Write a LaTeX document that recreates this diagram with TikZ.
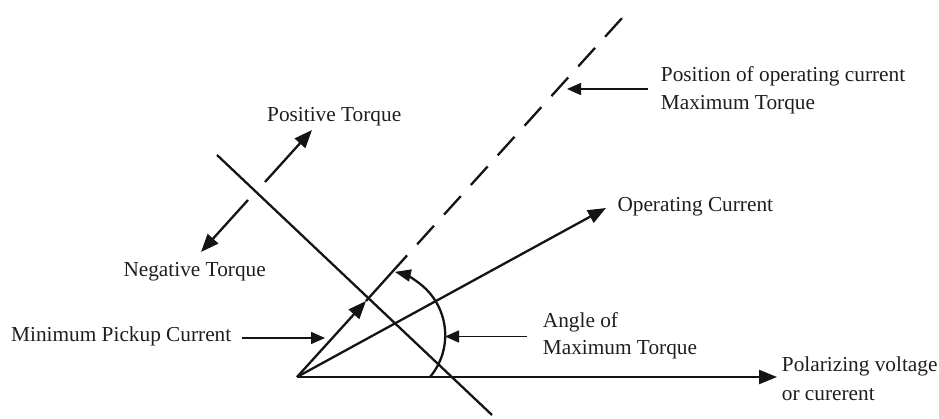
\documentclass[tikz,border=0pt]{standalone}
\usepackage{fontspec}
\setmainfont{Liberation Serif}
\usetikzlibrary{arrows.meta}
\definecolor{ink}{HTML}{141414}
\definecolor{txt}{HTML}{1E1E1E}
\begin{document}
\begin{tikzpicture}[x=1pt,y=-1pt,
  lbl/.style={inner sep=0pt,anchor=base west,text=txt,font=\fontsize{21.3}{26}\selectfont},
  mainline/.style={draw=ink,line width=2.3pt},
  vec/.style={mainline,-{Triangle[length=18pt,width=14pt]}},
  pointer/.style={draw=ink,line width=1.6pt,-{Triangle[length=14pt,width=12pt]}},
  dashline/.style={mainline,dash pattern=on 25pt off 15pt,dash phase=25pt}]
\useasboundingbox (0,0) rectangle (939,419);
% key points
\coordinate (O) at (297,377);
\coordinate (M) at (366,301);
\coordinate (P1) at (407.1,255.4);
\coordinate (E) at (623,17);
\coordinate (OC) at (606,208);
\coordinate (PV) at (777,377);
\coordinate (L1) at (217,155);
\coordinate (L2) at (492,415);
\coordinate (PT1) at (265,182);
\coordinate (PT2) at (312,130);
\coordinate (NT1) at (248,200);
\coordinate (NT2) at (201,252);
\coordinate (A0) at (430,377);
% pointer coordinates
\coordinate (mp1) at (242,338);
\coordinate (mp2) at (325,338);
\coordinate (am1) at (527,336.5);
\coordinate (am2) at (445,336.5);
\coordinate (po1) at (648,89);
\coordinate (po2) at (567,89);
% labels
\node[lbl] (pos) at (267,121.7) {Positive Torque};
\node[lbl] (neg) at (123.3,276.7) {Negative Torque};
\node[lbl] (mpc) at (11,341.7) {Minimum Pickup Current};
\node[lbl] (ang1) at (542.7,327.3) {Angle of};
\node[lbl] (ang2) at (542.7,355) {Maximum Torque};
\node[lbl] (opc) at (617.3,211.7) {Operating Current};
\node[lbl] (posi1) at (660.7,81.7) {Position of operating current};
\node[lbl] (posi2) at (660.7,110) {Maximum Torque};
\node[lbl] (pol1) at (781.7,371.7) {Polarizing voltage};
\node[lbl] (pol2) at (781.7,400) {or curerent};
% lines
\draw[vec] (O) -- (PV);
\draw[vec] (O) -- (OC);
\draw[vec] (O) -- (M);
\draw[mainline] (M) -- (P1);
\draw[dashline] (P1) -- (E);
\draw[mainline] (L1) -- (L2);
\draw[vec] (PT1) -- (PT2);
\draw[vec] (NT1) -- (NT2);
\draw[mainline,-{Triangle[length=16pt,width=12pt]}] (A0) arc[start angle=40,end angle=-77,radius=65];
\draw[pointer] (mp1) -- (mp2);
\draw[pointer] (am1) -- (am2);
\draw[pointer] (po1) -- (po2);
\end{tikzpicture}
\end{document}
